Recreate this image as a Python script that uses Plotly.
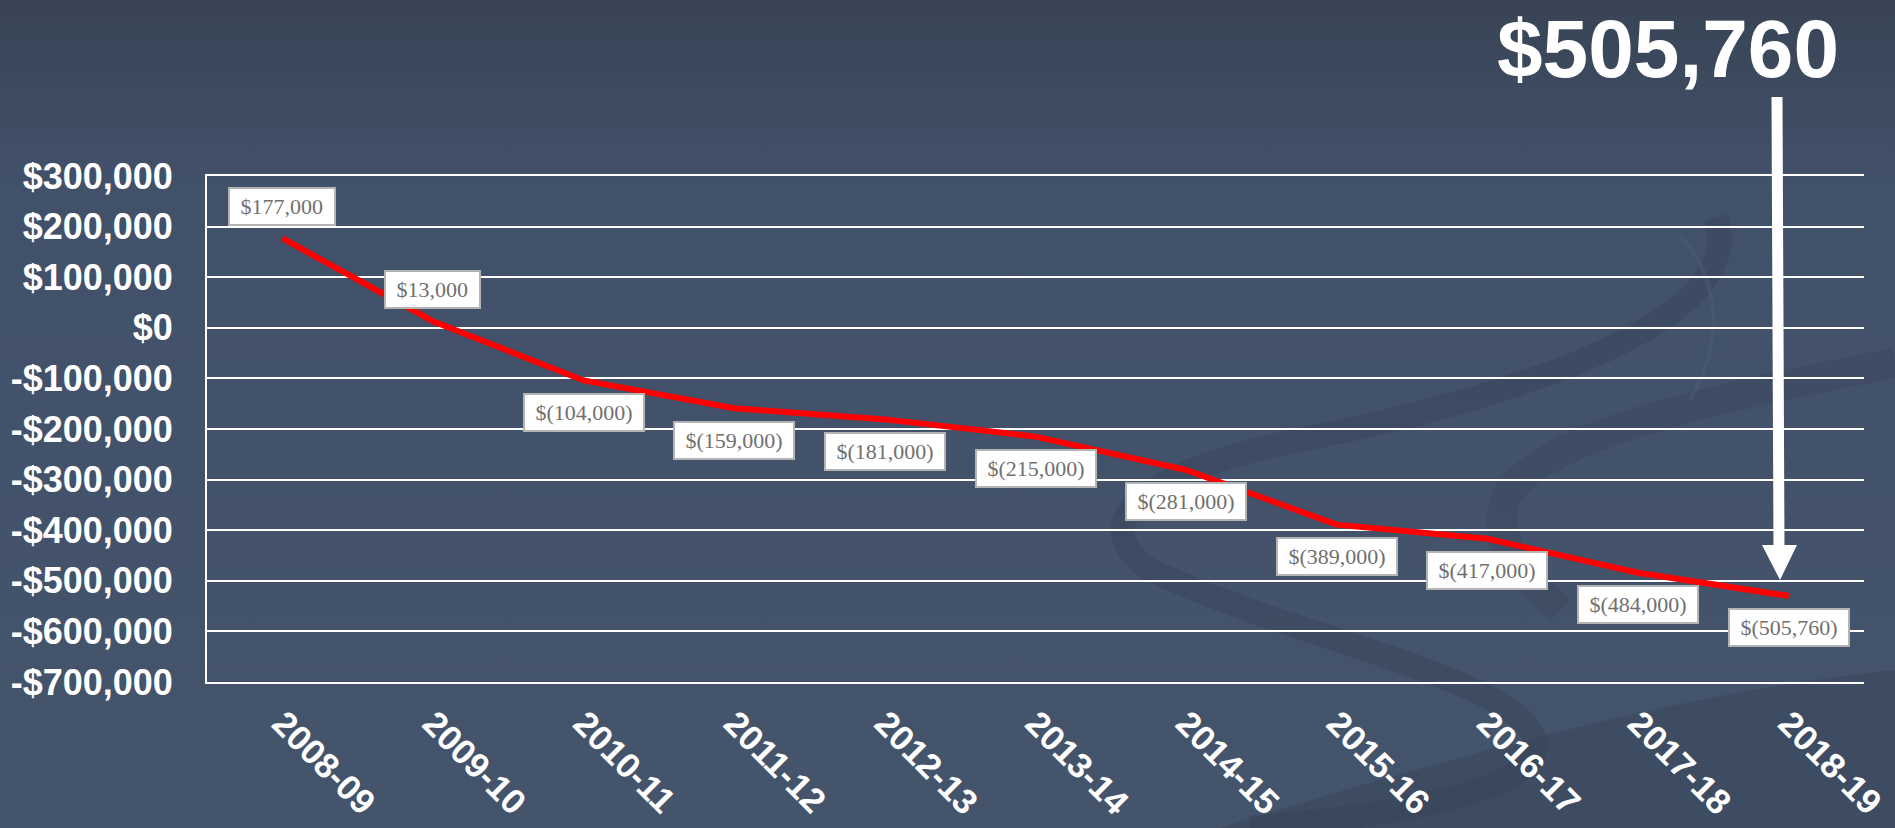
import base64
import plotly.graph_objects as go

# ---------------- data ----------------
categories = ["2008-09", "2009-10", "2010-11", "2011-12", "2012-13", "2013-14",
              "2014-15", "2015-16", "2016-17", "2017-18", "2018-19"]
values = [177000, 13000, -104000, -159000, -181000, -215000,
          -281000, -389000, -417000, -484000, -530000]
point_labels = ["$177,000", "$13,000", "$(104,000)", "$(159,000)", "$(181,000)",
                "$(215,000)", "$(281,000)", "$(389,000)", "$(417,000)",
                "$(484,000)", "$(505,760)"]
headline = "$505,760"
y_ticks = [300000, 200000, 100000, 0, -100000, -200000, -300000,
           -400000, -500000, -600000, -700000]
y_tick_text = [("-$" if v < 0 else "$") + f"{abs(v):,}" for v in y_ticks]

# ---------------- layout geometry ----------------
W, H = 1895, 828
L, R, T, B = 207, 31, 176, 146
PW, PH = W - L - R, H - T - B


def px(xp):
    return (xp - L) / PW


def py(yp):
    return 1 - (yp - T) / PH


# background (gradient + soft swirls) as an SVG image
svg = f"""<svg xmlns="http://www.w3.org/2000/svg" width="{W}" height="{H}" viewBox="0 0 {W} {H}">
<defs><linearGradient id="g" x1="0" y1="0" x2="0" y2="1">
<stop offset="0" stop-color="#384455"/><stop offset="0.22" stop-color="#42516a"/>
<stop offset="1" stop-color="#44546b"/></linearGradient></defs>
<rect width="{W}" height="{H}" fill="url(#g)"/>
<path d="M1716,218 C1745,300 1600,380 1300,440 C1150,470 1080,520 1150,570 C1300,640 1520,680 1535,740 C1545,790 1400,815 1250,828"
 fill="none" stroke="#323d50" stroke-opacity="0.3" stroke-width="24"/>
<path d="M1895,363 C1700,400 1530,440 1505,500 C1490,545 1530,580 1560,610"
 fill="none" stroke="#323d50" stroke-opacity="0.25" stroke-width="30"/>
<path d="M1220,828 C1470,750 1700,690 1895,670 L1895,828 Z" fill="#323d50" fill-opacity="0.3"/>
<path d="M1680,235 C1720,280 1725,340 1690,400" fill="none" stroke="#4d5d76" stroke-opacity="0.45" stroke-width="4"/>
</svg>"""
bg_uri = "data:image/svg+xml;base64," + base64.b64encode(svg.encode()).decode()

fig = go.Figure()
fig.add_trace(go.Scatter(
    x=categories, y=values, mode="lines",
    line=dict(color="#ff0000", width=6),
    hoverinfo="skip", showlegend=False,
))

annotations = []
nb = "\u00a0"
for c, v, t in zip(categories, values, point_labels):
    annotations.append(dict(
        x=c, y=v, xref="x", yref="y", text=nb + t + nb, showarrow=False,
        yshift=32 if v >= 0 else -32,
        font=dict(family="Liberation Serif, Times New Roman, serif", size=22, color="#707070"),
        bgcolor="#ffffff", bordercolor="#b4b4b4", borderwidth=2, borderpad=5,
    ))

annotations.append(dict(
    x=px(1668), y=py(48), xref="paper", yref="paper", text=headline,
    showarrow=False, xanchor="center", yanchor="middle",
    font=dict(family="Liberation Sans, Arial, sans-serif", size=82, color="#ffffff", weight=700),
))

shapes = [
    dict(type="line", xref="paper", yref="paper",
         x0=px(1777), x1=px(1779), y0=py(97), y1=py(550),
         line=dict(color="#ffffff", width=11), layer="above"),
    dict(type="path", xref="paper", yref="paper",
         path=f"M {px(1762)},{py(545)} L {px(1797)},{py(545)} L {px(1780)},{py(580)} Z",
         fillcolor="#ffffff", line=dict(color="#ffffff", width=0), layer="above"),
]

fig.update_layout(
    width=W, height=H,
    margin=dict(l=L, r=R, t=T, b=B, autoexpand=False),
    paper_bgcolor="#44546b",
    plot_bgcolor="rgba(0,0,0,0)",
    images=[dict(source=bg_uri, xref="paper", yref="paper",
                 x=px(0), y=py(0), sizex=W / PW, sizey=H / PH,
                 sizing="stretch", xanchor="left", yanchor="top", layer="below")],
    annotations=annotations,
    shapes=shapes,
    xaxis=dict(
        type="category", range=[-0.5, len(categories) - 0.5],
        showgrid=False, zeroline=False, automargin=False,
        showline=True, linecolor="#ffffff", linewidth=2, mirror=True,
        tickangle=45, ticks="",
        tickfont=dict(family="Liberation Sans, Arial, sans-serif", size=35, color="#ffffff", weight=700),
        ticklabelstandoff=5,
    ),
    yaxis=dict(
        range=[-700000, 300000], tickvals=y_ticks, ticktext=y_tick_text,
        showgrid=True, gridcolor="#ffffff", gridwidth=1.5, automargin=False,
        zeroline=False, showline=True, linecolor="#ffffff", linewidth=2,
        ticks="",
        tickfont=dict(family="Liberation Sans, Arial, sans-serif", size=36, color="#ffffff", weight=700),
        ticklabelstandoff=25,
    ),
)

fig.write_html("out.html", config={"displayModeBar": False},
               post_script="document.body.style.margin='0';document.body.style.overflow='hidden';")
